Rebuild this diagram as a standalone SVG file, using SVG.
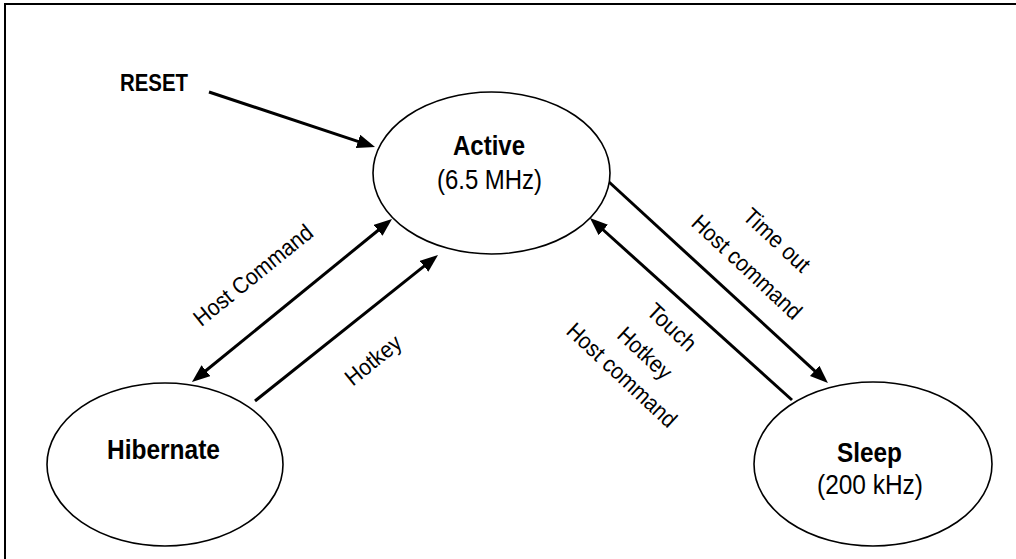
<svg xmlns="http://www.w3.org/2000/svg" width="1016" height="559" viewBox="0 0 1016 559">
  <style>
    .node { fill: #ffffff; stroke: #000000; stroke-width: 1.6; }
    .t { font-family: "Liberation Sans", Arial, sans-serif; fill: #000000; }
    .b { font-weight: bold; }
    .big { font-size: 28px; }
    .lbl { font-size: 23px; }
    .conn { stroke: #000000; stroke-width: 3; fill: none; }
  </style>
  <defs>
    <marker id="ah" markerUnits="userSpaceOnUse" markerWidth="18" markerHeight="14" refX="3" refY="7" orient="auto-start-reverse">
      <path d="M0,0 L18,7 L0,14 z" fill="#000000"/>
    </marker>
  </defs>
  <rect width="1016" height="559" fill="#ffffff"/>
  <path d="M5,559 V4 H1016" fill="none" stroke="#000000" stroke-width="2"/>

  <g id="connectors">
    <line class="conn" x1="209" y1="92" x2="360.8" y2="142.3" marker-end="url(#ah)"/>
    <line class="conn" x1="203.6" y1="372.5" x2="380.4" y2="228.5" marker-start="url(#ah)" marker-end="url(#ah)"/>
    <line class="conn" x1="255" y1="401" x2="426.3" y2="264.4" marker-end="url(#ah)"/>
    <line class="conn" x1="609" y1="182" x2="816.9" y2="372.9" marker-end="url(#ah)"/>
    <line class="conn" x1="792" y1="400" x2="601.1" y2="228" marker-end="url(#ah)"/>
    <text class="t lbl" text-anchor="middle" transform="translate(253,275) rotate(-39)" y="8" textLength="146" lengthAdjust="spacingAndGlyphs">Host Command</text>
    <text class="t lbl" text-anchor="middle" transform="translate(373,360) rotate(-39)" y="8" textLength="65" lengthAdjust="spacingAndGlyphs">Hotkey</text>
    <text class="t lbl" text-anchor="middle" transform="translate(777,240) rotate(43)" y="8" textLength="82" lengthAdjust="spacingAndGlyphs">Time out</text>
    <text class="t lbl" text-anchor="middle" transform="translate(747,267) rotate(43)" y="8" textLength="141" lengthAdjust="spacingAndGlyphs">Host command</text>
    <text class="t lbl" text-anchor="middle" transform="translate(672,327) rotate(43)" y="8" textLength="58" lengthAdjust="spacingAndGlyphs">Touch</text>
    <text class="t lbl" text-anchor="middle" transform="translate(645,353) rotate(43)" y="8" textLength="65" lengthAdjust="spacingAndGlyphs">Hotkey</text>
    <text class="t lbl" text-anchor="middle" transform="translate(622,375) rotate(43)" y="8" textLength="141" lengthAdjust="spacingAndGlyphs">Host command</text>
  </g>

  <g id="reset">
    <text class="t b" x="120" y="91" font-size="24" textLength="68" lengthAdjust="spacingAndGlyphs">RESET</text>
  </g>

  <g id="active">
    <ellipse class="node" cx="491.5" cy="173" rx="118.5" ry="81"/>
    <text class="t b big" x="489" y="155" text-anchor="middle" textLength="72" lengthAdjust="spacingAndGlyphs">Active</text>
    <text class="t big" x="489.5" y="189" text-anchor="middle" textLength="105" lengthAdjust="spacingAndGlyphs">(6.5 MHz)</text>
  </g>

  <g id="hibernate">
    <ellipse class="node" cx="165" cy="464.5" rx="118" ry="81.5"/>
    <text class="t b big" x="163.5" y="459" text-anchor="middle" textLength="113" lengthAdjust="spacingAndGlyphs">Hibernate</text>
  </g>

  <g id="sleep">
    <ellipse class="node" cx="873" cy="464" rx="119" ry="82"/>
    <text class="t b big" x="869.5" y="462" text-anchor="middle" textLength="65" lengthAdjust="spacingAndGlyphs">Sleep</text>
    <text class="t big" x="870" y="494" text-anchor="middle" textLength="106" lengthAdjust="spacingAndGlyphs">(200 kHz)</text>
  </g>
</svg>
